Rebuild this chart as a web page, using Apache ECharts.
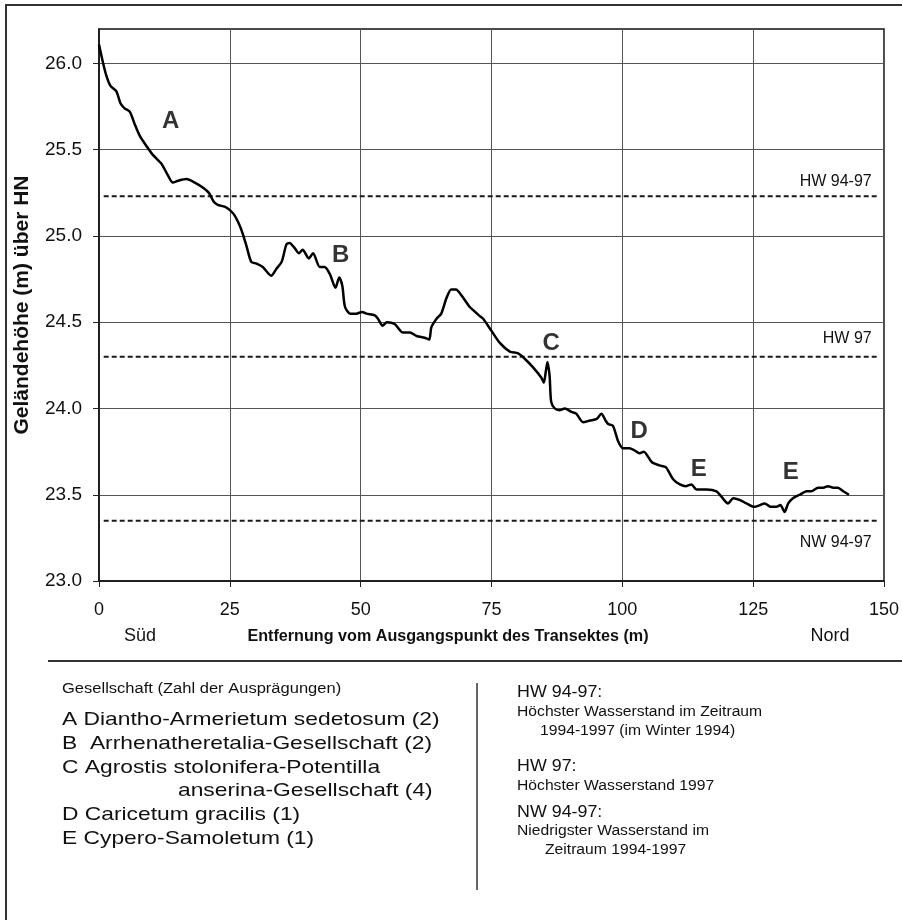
<!DOCTYPE html>
<html>
<head>
<meta charset="utf-8">
<script src="https://cdn.jsdelivr.net/npm/echarts@6/dist/echarts.min.js"></script>
<style>
  html, body { margin: 0; padding: 0; background: #fff; }
  #chart { width: 902px; height: 920px; }
</style>
</head>
<body>
<div id="chart"></div>
<script>
// Terrain profile along the transect: distance (m) and ground elevation (m above HN)
const distance = [
  0, 0.8, 1.4, 2.2, 3.3, 4.1, 4.9, 5.9, 6.8, 7.8, 9.1, 10.3, 11.9, 13.2, 14.1, 15.1, 16.7, 18.3, 19.9, 21.0,
  21.9, 22.7, 24.0, 25.0, 25.9, 26.9, 27.5, 28.2, 29.1, 30.1, 31.3, 32.9, 33.9, 34.9, 35.8, 36.4, 37.4, 38.2, 38.9, 40.1,
  40.9, 42.2, 43.1, 44.1, 45.2, 45.9, 46.5, 47.0, 48.0, 49.2, 50.3, 51.1, 52.7, 53.3, 54.2, 55.0, 56.5, 58.1, 59.4, 60.7,
  62.2, 63.1, 63.5, 64.5, 65.4, 66.4, 67.3, 68.2, 69.4, 70.8, 71.5, 72.6, 73.4, 75.0, 76.6, 78.5, 80.1, 81.3, 82.9, 84.5,
  85.0, 85.4, 85.7, 86.1, 86.4, 87.1, 88.0, 89.0, 90.3, 91.2, 92.5, 93.8, 95.1, 96.0, 96.8, 97.3, 98.2, 99.2, 100.1, 101.4,
  102.7, 103.3, 104.1, 105.6, 107.1, 108.3, 109.7, 111.0, 112.2, 113.2, 114.2, 116.1, 118.0, 118.9, 120.2, 121.2, 122.4, 123.7, 125.2, 126.3,
  127.2, 128.3, 129.4, 130.2, 131.0, 131.7, 132.6, 133.9, 135.2, 136.1, 137.4, 138.4, 139.3, 140.3, 141.2, 142.2, 143.3
];
const elevation = [
  26.11, 26.00, 25.93, 25.87, 25.84, 25.77, 25.74, 25.72, 25.65, 25.58, 25.52, 25.47, 25.42, 25.35, 25.31, 25.32, 25.33, 25.31, 25.28, 25.25,
  25.20, 25.18, 25.17, 25.15, 25.12, 25.06, 25.01, 24.94, 24.85, 24.84, 24.82, 24.77, 24.81, 24.85, 24.95, 24.96, 24.93, 24.90, 24.92, 24.87,
  24.90, 24.82, 24.82, 24.78, 24.70, 24.76, 24.71, 24.59, 24.55, 24.55, 24.56, 24.55, 24.54, 24.52, 24.48, 24.50, 24.49, 24.44, 24.44, 24.42,
  24.41, 24.40, 24.47, 24.52, 24.55, 24.64, 24.69, 24.69, 24.65, 24.59, 24.57, 24.54, 24.52, 24.45, 24.38, 24.33, 24.32, 24.29, 24.24, 24.18,
  24.15, 24.22, 24.27, 24.19, 24.04, 24.00, 23.99, 24.00, 23.98, 23.97, 23.92, 23.93, 23.94, 23.97, 23.93, 23.91, 23.90, 23.81, 23.77, 23.77,
  23.75, 23.74, 23.75, 23.69, 23.67, 23.66, 23.59, 23.56, 23.55, 23.56, 23.53, 23.53, 23.52, 23.49, 23.45, 23.48, 23.47, 23.45, 23.43, 23.44,
  23.45, 23.43, 23.43, 23.44, 23.40, 23.45, 23.48, 23.50, 23.52, 23.52, 23.54, 23.54, 23.55, 23.54, 23.54, 23.52, 23.50
];

// Axis ticks
const xTicks = [0, 25, 50, 75, 100, 125, 150];
const yTicks = [23.0, 23.5, 24.0, 24.5, 25.0, 25.5, 26.0];

// Water levels (m above HN)
const levelNames = ['HW 94-97', 'HW 97', 'NW 94-97'];
const levelValues = [25.23, 24.30, 23.35];
const levelStart = 0.9;
const levelEnd = 148.6;

// Plant community zones along the profile
const zoneLetters = ['A', 'B', 'C', 'D', 'E', 'E'];
const zoneX = [13.7, 46.2, 86.4, 103.2, 114.6, 132.2];
const zoneY = [25.665, 24.89, 24.38, 23.87, 23.65, 23.63];

// Key texts
const keyTitle = 'Gesellschaft (Zahl der Ausprägungen)';
const keyCommunities = [
  'A Diantho-Armerietum sedetosum (2)',
  'B  Arrhenatheretalia-Gesellschaft (2)',
  'C Agrostis stolonifera-Potentilla',
  'anserina-Gesellschaft (4)',
  'D Caricetum gracilis (1)',
  'E Cypero-Samoletum (1)'
];
const keyLevelHeads = ['HW 94-97:', 'HW 97:', 'NW 94-97:'];
const keyLevelNotes = [
  ['Höchster Wasserstand im Zeitraum', '1994-1997 (im Winter 1994)'],
  ['Höchster Wasserstand 1997'],
  ['Niedrigster Wasserstand im', 'Zeitraum 1994-1997']
];

const FONT = '"Liberation Sans", Arial, Helvetica, sans-serif';

const chart = echarts.init(document.getElementById('chart'), null, { renderer: 'canvas' });

// label placement for each water-level line
const levelLabelPos = [
  { position: 'top', distance: 6 },
  { position: 'top', distance: 10 },
  { position: 'bottom', distance: 13 }
];

const levelSeries = levelNames.map((name, i) => ({
  type: 'line',
  name: name,
  silent: true,
  symbol: 'circle',
  symbolSize: 1,
  showSymbol: true,
  itemStyle: { color: 'rgba(0,0,0,0)' },
  z: 3,
  lineStyle: { color: '#1a1a1a', width: 2, type: [5, 3] },
  label: { show: false },
  data: [
    [levelStart, levelValues[i]],
    {
      value: [levelEnd, levelValues[i]],
      label: {
        show: true,
        formatter: name,
        position: levelLabelPos[i].position,
        distance: levelLabelPos[i].distance,
        align: 'right',
        offset: [-5, 0],
        fontFamily: FONT,
        fontSize: 16,
        color: '#111'
      }
    }
  ]
}));

// Key graphics below the chart
const keyGraphics = [];
function addText(txt, x, y, size, opts) {
  opts = opts || {};
  keyGraphics.push({
    type: 'text',
    x: x, y: y,
    scaleX: opts.scaleX || 1,
    silent: true,
    style: {
      text: txt, x: 0, y: 0,
      font: (opts.bold ? 'bold ' : '') + size + 'px ' + FONT,
      fill: '#111',
      align: opts.align || 'left',
      verticalAlign: 'middle'
    }
  });
}

addText(keyTitle, 62, 689, 14, { scaleX: 1.18 });
const commY = [720, 744, 768, 791, 815, 839];
const commX = [62, 62, 62, 178, 62, 62];
keyCommunities.forEach((t, i) => addText(t, commX[i], commY[i], 19, { scaleX: 1.2 }));

const headY = [692, 766, 812];
const noteY = [[712, 731], [786], [831, 850]];
const noteX = [[517, 540], [517], [517, 545]];
keyLevelHeads.forEach((t, i) => {
  addText(t, 517, headY[i], 17, { scaleX: 1.05 });
  keyLevelNotes[i].forEach((n, j) => addText(n, noteX[i][j], noteY[i][j], 14, { scaleX: 1.12 }));
});

const option = {
  animation: false,
  backgroundColor: '#fff',
  grid: {
    left: 99, right: 18, top: 29, bottom: 339,
    containLabel: false,
    outerBoundsMode: 'none',
    show: true,
    borderColor: '#111',
    borderWidth: 1.5,
    backgroundColor: 'transparent'
  },
  xAxis: {
    type: 'value',
    min: 0, max: 150, interval: 25,
    axisLine: { show: true, onZero: false, lineStyle: { color: '#111', width: 1.5 } },
    axisTick: { show: true, inside: false, length: 6, lineStyle: { color: '#222', width: 1 } },
    axisLabel: {
      show: true, margin: 20,
      fontFamily: FONT, fontSize: 18, color: '#111',
      customValues: xTicks
    },
    splitLine: { show: true, lineStyle: { color: '#555', width: 1 } }
  },
  yAxis: {
    type: 'value',
    min: 23, max: 26.2, interval: 0.5,
    name: 'Geländehöhe (m) über HN',
    nameLocation: 'middle',
    nameRotate: 90,
    nameGap: 66,
    nameTextStyle: { fontFamily: FONT, fontSize: 21, fontWeight: 'bold', color: '#111' },
    axisLine: { show: true, onZero: false, lineStyle: { color: '#111', width: 1.5 } },
    axisTick: { show: true, inside: false, length: 6, lineStyle: { color: '#222', width: 1 }, customValues: yTicks },
    axisLabel: {
      show: true, margin: 17,
      fontFamily: FONT, fontSize: 19, color: '#111',
      customValues: yTicks,
      formatter: v => v.toFixed(1)
    },
    splitLine: { show: true, lineStyle: { color: '#555', width: 1 } }
  },
  series: [
    {
      type: 'line',
      name: 'Gelände',
      silent: true,
      symbol: 'none',
      smooth: 0.25,
      z: 5,
      lineStyle: { color: '#000', width: 2.5 },
      data: distance.map((d, i) => [d, elevation[i]])
    },
    ...levelSeries,
    {
      type: 'scatter',
      name: 'Zonen',
      silent: true,
      symbolSize: 1,
      itemStyle: { color: 'rgba(0,0,0,0)' },
      z: 6,
      label: {
        show: true,
        position: 'inside',
        formatter: p => zoneLetters[p.dataIndex],
        fontFamily: FONT, fontSize: 24, fontWeight: 'bold', color: '#000',
        textBorderWidth: 0, textBorderColor: 'transparent'
      },
      data: zoneX.map((x, i) => [x, zoneY[i]])
    }
  ],
  graphic: [
    // outer frame
    { type: 'rect', silent: true, shape: { x: 6, y: 5, width: 1000, height: 1000 },
      style: { fill: 'none', stroke: '#333', lineWidth: 2 } },
    // x-axis captions
    { type: 'text', silent: true, x: 140, y: 636,
      style: { text: 'Süd', x: 0, y: 0, font: '18px ' + FONT, fill: '#111', align: 'center', verticalAlign: 'middle' } },
    { type: 'text', silent: true, x: 448, y: 636, scaleX: 0.95,
      style: { text: 'Entfernung vom Ausgangspunkt des Transektes (m)', x: 0, y: 0, font: 'bold 17px ' + FONT, fill: '#111', align: 'center', verticalAlign: 'middle' } },
    { type: 'text', silent: true, x: 830, y: 636,
      style: { text: 'Nord', x: 0, y: 0, font: '18px ' + FONT, fill: '#111', align: 'center', verticalAlign: 'middle' } },
    // separator and divider of the key
    { type: 'line', silent: true, shape: { x1: 48, y1: 661, x2: 902, y2: 661 }, style: { stroke: '#333', lineWidth: 2 } },
    { type: 'line', silent: true, shape: { x1: 477, y1: 683, x2: 477, y2: 890 }, style: { stroke: '#333', lineWidth: 1.5 } },
    ...keyGraphics
  ]
};

chart.setOption(option);
</script>
</body>
</html>
